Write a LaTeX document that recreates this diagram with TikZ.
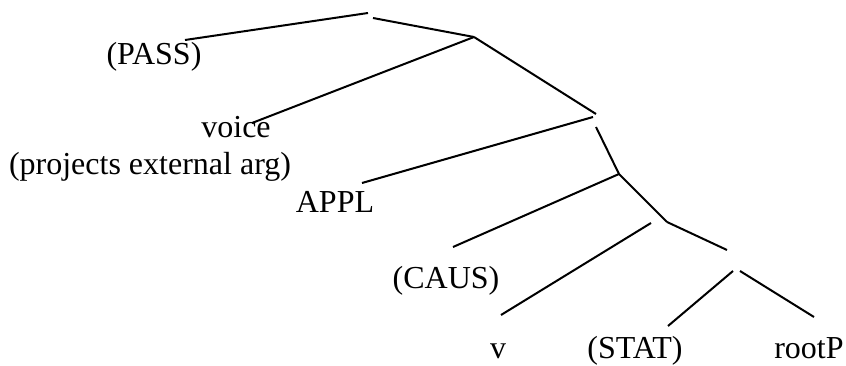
\documentclass[tikz,border=0pt]{standalone}
\usepackage{fontspec}
\setmainfont{Liberation Serif}
\begin{document}
\begin{tikzpicture}[x=1pt,y=-1pt,
  lbl/.style={anchor=base,inner sep=0pt,font=\fontsize{32}{38}\selectfont},
  branch/.style={line width=2pt}]
\useasboundingbox (0,0) rectangle (846,366);
% labels
\node[lbl] (pass) at (154,65) {(PASS)};
\node[lbl] (voice) at (236,138) {voice};
\node[lbl] (proj) at (150,175) {(projects external arg)};
\node[lbl] (appl) at (335,213) {APPL};
\node[lbl] (caus) at (446,288) {(CAUS)};
\node[lbl] (v) at (498,358) {v};
\node[lbl] (stat) at (635,358) {(STAT)};
\node[lbl] (root) at (809,358) {rootP};
% branch end points
\coordinate (a1) at (185,40);  \coordinate (a2) at (368,13);
\coordinate (b1) at (373,18);  \coordinate (b2) at (474,37);
\coordinate (c1) at (252,123);
\coordinate (d2) at (596,114);
\coordinate (d3) at (593,117);
\coordinate (e2) at (362,183);
\coordinate (f1) at (596,127); \coordinate (f2) at (619,174);
\coordinate (g2) at (453,247);
\coordinate (h2) at (667,222);
\coordinate (i2) at (727,250);
\coordinate (j1) at (651,223); \coordinate (j2) at (501,315);
\coordinate (k1) at (733,271); \coordinate (k2) at (668,326);
\coordinate (l1) at (740,271); \coordinate (l2) at (814,317);
% branches
\draw[branch] (a1) -- (a2);
\draw[branch] (b1) -- (b2);
\draw[branch] (b2) -- (c1);
\draw[branch] (b2) -- (d2);
\draw[branch] (d3) -- (e2);
\draw[branch] (f1) -- (f2);
\draw[branch] (f2) -- (g2);
\draw[branch] (f2) -- (h2);
\draw[branch] (h2) -- (i2);
\draw[branch] (j1) -- (j2);
\draw[branch] (k1) -- (k2);
\draw[branch] (l1) -- (l2);
\end{tikzpicture}
\end{document}
